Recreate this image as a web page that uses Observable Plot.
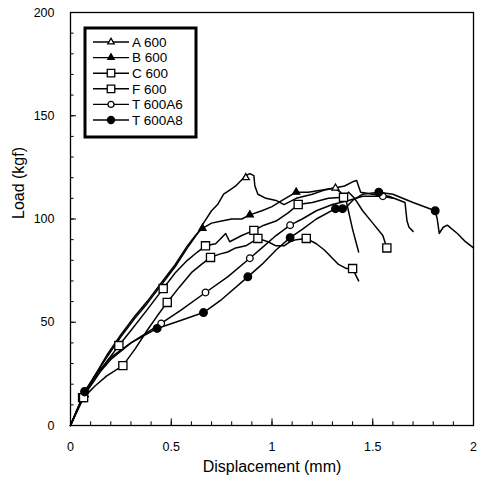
<!DOCTYPE html>
<html><head><meta charset="utf-8">
<script src="https://cdn.jsdelivr.net/npm/d3@7"></script>
<script src="https://cdn.jsdelivr.net/npm/@observablehq/plot@0.6"></script>
<style>body{margin:0;background:#fff;font-family:"Liberation Sans",Arial,sans-serif}</style>
</head><body><div id="chart"></div><script>
// ---- data (displacement mm, load kgf) ----
const seriesNames = ["A 600","B 600","C 600","F 600","T 600A6","T 600A8"];
const xMajor = [0,0.5,1,1.5,2];
const xMinor = d3.range(0,2.001,0.1);
const yMajor = [0,50,100,150,200];
const yMinor = d3.range(0,200.1,10);

const curveA = [[0,0],[0.03,7],[0.07,15],[0.12,24],[0.18,33],[0.25,43],[0.32,52],[0.38,59],[0.45,68],[0.52,77],[0.58,86],[0.63,93],[0.66,98],[0.70,104],[0.73,107],[0.76,112],[0.79,114],[0.82,116],[0.85,119],[0.87,121],[0.89,122],[0.91,121],[0.915,116],[0.93,112],[0.97,110],[1.02,109],[1.06,107],[1.12,110],[1.2,112],[1.26,114],[1.31,115],[1.36,116],[1.40,118],[1.42,118.6],[1.44,113],[1.5,112],[1.58,111],[1.66,108],[1.67,99],[1.68,96],[1.70,94]];
const markA = [[0.07,15],[0.87,120],[1.315,115]];

const curveB = [[0,0],[0.03,7],[0.07,15],[0.12,24],[0.18,34],[0.25,44],[0.32,53],[0.38,60],[0.45,69],[0.52,78],[0.58,87],[0.62,92],[0.655,95.5],[0.70,98],[0.75,99],[0.80,100],[0.85,100],[0.89,102],[0.95,104],[1.0,106],[1.05,109],[1.12,113],[1.18,113],[1.25,114],[1.31,115],[1.34,113],[1.37,108],[1.40,95],[1.43,84]];
const markB = [[0.07,15],[0.655,95.5],[0.89,102],[1.12,113]];

const curveC = [[0,0],[0.06,13.5],[0.12,22],[0.18,31],[0.24,38.7],[0.3,46],[0.38,56],[0.46,66.3],[0.52,74],[0.58,80],[0.63,84],[0.67,87],[0.72,88],[0.74,90],[0.77,93],[0.79,89],[0.85,92],[0.91,94.5],[0.96,97],[1.02,99],[1.08,103],[1.13,107],[1.2,108],[1.28,110],[1.355,110.5],[1.38,113],[1.41,110],[1.45,104],[1.5,98],[1.55,92],[1.57,86]];
const markC = [[0.06,13.5],[0.24,38.7],[0.46,66.3],[0.67,87],[0.91,94.5],[1.13,107],[1.355,110.5],[1.57,86]];

const curveF = [[0,0],[0.065,13.5],[0.12,19],[0.18,24],[0.26,29],[0.32,37],[0.38,46],[0.43,53],[0.48,59.6],[0.54,67],[0.6,74],[0.65,78],[0.695,81.4],[0.74,83],[0.78,84],[0.82,86],[0.87,87],[0.93,90.6],[0.98,89],[1.02,87],[1.06,87],[1.09,89],[1.12,90],[1.17,90.6],[1.22,88],[1.26,85],[1.3,81],[1.33,78],[1.37,76],[1.40,76],[1.42,72],[1.43,70]];
const markF = [[0.065,13.5],[0.26,29],[0.48,59.6],[0.695,81.4],[0.93,90.6],[1.17,90.6],[1.40,76]];

const curveT6 = [[0,0],[0.07,16],[0.12,23],[0.2,32],[0.3,40],[0.38,45],[0.45,49.4],[0.55,56],[0.67,64.4],[0.78,72],[0.89,81],[0.95,86],[1.02,92],[1.09,97],[1.15,100],[1.22,104],[1.3,107],[1.38,109],[1.45,111],[1.55,111],[1.6,110]];
const markT6 = [[0.07,16],[0.45,49.4],[0.67,64.4],[0.89,81],[1.09,97],[1.55,111]];

const curveT8 = [[0,0],[0.07,16.5],[0.12,24],[0.2,33],[0.3,40],[0.43,47],[0.55,51],[0.66,54.7],[0.75,61],[0.88,72],[0.95,78],[1.02,85],[1.09,91],[1.15,95],[1.22,100],[1.315,105],[1.36,105],[1.4,109],[1.45,112],[1.53,113],[1.6,112],[1.7,108],[1.81,104],[1.82,100],[1.83,93],[1.85,96],[1.87,97],[1.92,93],[1.96,89],[2.0,86]];
const markT8 = [[0.07,16.5],[0.43,47],[0.66,54.7],[0.88,72],[1.09,91],[1.315,105],[1.35,105],[1.53,113],[1.81,104]];

// ---- styles ----
const styles = {
  "A 600":   {symbol:"triangle", fill:"white", r:2.6},
  "B 600":   {symbol:"triangle", fill:"black", r:2.6},
  "C 600":   {symbol:"square",   fill:"white", r:4.6},
  "F 600":   {symbol:"square",   fill:"white", r:4.6},
  "T 600A6": {symbol:"circle",   fill:"white", r:3.3},
  "T 600A8": {symbol:"circle",   fill:"black", r:3.8}
};
const curves = [curveA,curveB,curveC,curveF,curveT6,curveT8];
const marks = [markA,markB,markC,markF,markT6,markT8];

const lineMarks = [];
const dotMarks = [];
seriesNames.forEach((name,i)=>{
  const s = styles[name];
  lineMarks.push(Plot.line(curves[i], {x:d=>d[0], y:d=>d[1], stroke:"black", strokeWidth:1.5}));
  dotMarks.push(Plot.dot(marks[i], {x:d=>d[0], y:d=>d[1], symbol:()=>s.symbol, r:s.r, fill:s.fill, stroke:"black", strokeWidth:1.3}));
});

const chart = Plot.plot({
  width:477, height:481,
  marginLeft:70, marginRight:4, marginTop:12, marginBottom:56,
  style:{fontFamily:'"Liberation Sans",Arial,sans-serif', fontSize:"12px", color:"black", background:"white"},
  x:{domain:[0,2]},
  y:{domain:[0,200]},
  symbol:{type:"identity"},
  marks:[
    // inward ticks
    Plot.ruleX(xMinor, {x:d=>d, y1:0, y2:1.8, stroke:"black", strokeWidth:1}),
    Plot.ruleX(xMajor, {x:d=>d, y1:0, y2:3.2, stroke:"black", strokeWidth:1}),
    Plot.ruleY(yMinor, {y:d=>d, x1:0, x2:0.018, stroke:"black", strokeWidth:1}),
    Plot.ruleY(yMajor, {y:d=>d, x1:0, x2:0.03, stroke:"black", strokeWidth:1}),
    Plot.axisX(xMajor, {tickSize:0, tickPadding:17, tickFormat:d=>String(d), label:null, fontSize:12.5}),
    Plot.axisY(yMajor, {tickSize:0, tickPadding:16, tickFormat:d=>String(d), label:null, fontSize:12.5}),
    Plot.frame({stroke:"black", strokeWidth:1.3}),
    ...lineMarks,
    ...dotMarks,
    Plot.text(["Displacement (mm)"], {frameAnchor:"bottom", dy:46, fontSize:16, text:d=>d}),
    Plot.text(["Load (kgf)"], {frameAnchor:"left", dx:-52, rotate:-90, fontSize:16, text:d=>d})
  ]
});
document.getElementById("chart").appendChild(chart);

// ---- legend drawn inside the SVG ----
const svg = d3.select(chart);
const lg = svg.append("g").attr("transform","translate(85,28)");
lg.append("rect").attr("x",0).attr("y",0).attr("width",111).attr("height",109)
  .attr("fill","white").attr("stroke","black").attr("stroke-width",3);
const symMap = {triangle:d3.symbolTriangle, square:d3.symbolSquare, circle:d3.symbolCircle};
seriesNames.forEach((name,i)=>{
  const s = styles[name];
  const y = 14 + i*15.6;
  const row = lg.append("g").attr("transform",`translate(0,${y})`);
  row.append("line").attr("x1",8).attr("x2",44).attr("y1",0).attr("y2",0).attr("stroke","black").attr("stroke-width",1.4);
  row.append("path").attr("transform","translate(26,0)")
    .attr("d", d3.symbol(symMap[s.symbol], Math.PI*s.r*s.r*0.85)())
    .attr("fill", s.fill).attr("stroke","black").attr("stroke-width",1.3);
  row.append("text").attr("x",47).attr("y",0).attr("dy","0.35em")
    .attr("text-anchor","start")
    .attr("font-size","13.5px").attr("fill","black").text(name);
});
</script></body></html>
